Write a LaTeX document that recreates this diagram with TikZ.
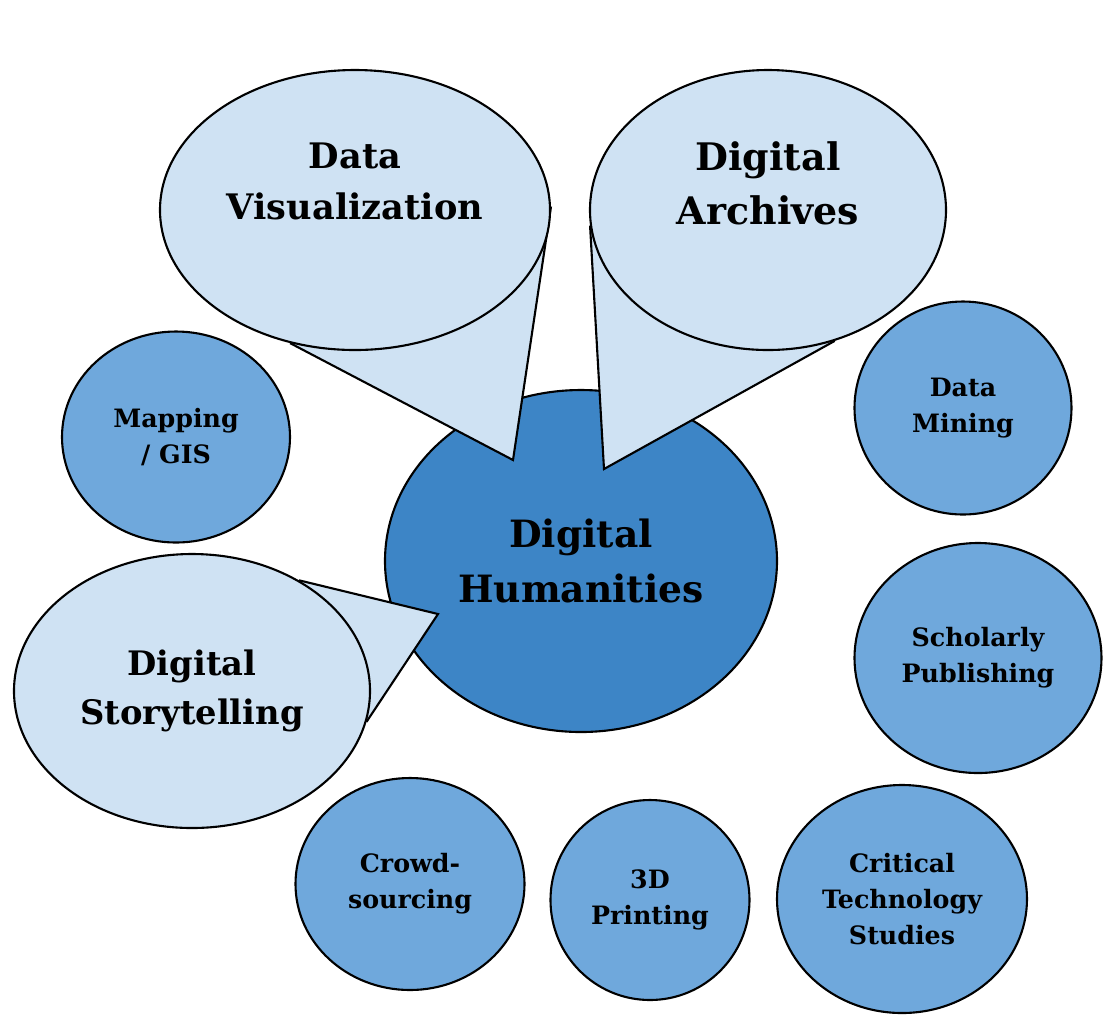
\documentclass[tikz,border=0pt]{standalone}
\usepackage{fontspec}
\setmainfont{DejaVu Serif}
\usetikzlibrary{shapes.geometric, calc}
\pgfdeclarelayer{background}
\pgfdeclarelayer{pointers}
\pgfsetlayers{background,pointers,main}
\definecolor{hubblue}{HTML}{3D85C6}
\definecolor{topicblue}{HTML}{6FA8DC}
\definecolor{calloutblue}{HTML}{CFE2F3}
\tikzset{
    dims/.style 2 args={minimum width=#1cm, minimum height=#2cm},
    blob/.style={ellipse, draw, line width=0.6pt, inner sep=0pt, align=center},
    hub/.style={blob, fill=hubblue, font=\fontsize{10.7}{15.6}\selectfont\bfseries},
    topic/.style={blob, fill=topicblue, font=\fontsize{7.2}{10.3}\selectfont\bfseries},
    callout/.style={blob, fill=calloutblue},
    callout text/.style={align=center, font=\fontsize{10}{14.5}\selectfont\bfseries},
    pointer/.style={line width=0.6pt, line join=miter},
}

\begin{document}
\begin{tikzpicture}
    \useasboundingbox (0,0) rectangle (11.05,-10.15);

    \begin{pgfonlayer}{background}
      \node[hub, dims={3.92}{3.42}] (dh) at (5.81,-5.61) {Digital\\Humanities};
    \end{pgfonlayer}

    % callouts
    \node[callout, dims={3.9}{2.8}] (dv) at (3.55,-2.10) {};
    \node[callout, dims={3.56}{2.8}] (da) at (7.68,-2.10) {};
    \node[callout, dims={3.56}{2.74}] (ds) at (1.92,-6.91) {};

    \node[callout text] (dvtext) at ($(dv.center)+(0,0.29)$) {Data\\Visualization};
    \node[callout text, font=\fontsize{10.8}{15.4}\selectfont\bfseries] (datext) at ($(da.center)+(0,0.27)$) {Digital\\Archives};
    \node[callout text, font=\fontsize{9.6}{14}\selectfont\bfseries] (dstext) at (ds.center) {Digital\\Storytelling};

    \coordinate (dvtip) at (5.13,-4.60);
    \coordinate (datip) at (6.04,-4.69);
    \coordinate (dstip) at (4.38,-6.14);

    \begin{pgfonlayer}{pointers}
      \fill[calloutblue] (dv.244) -- (dvtip) -- (dv.1.5) -- cycle;
      \draw[pointer] (dv.244) -- (dvtip) -- (dv.1.5);
      \fill[calloutblue] (da.185) -- (datip) -- (da.297) -- cycle;
      \draw[pointer] (da.185) -- (datip) -- (da.297);
      \fill[calloutblue] (ds.46.6) -- (dstip) -- (ds.-10.2) -- cycle;
      \draw[pointer] (ds.46.6) -- (dstip) -- (ds.-10.2);
    \end{pgfonlayer}

    % topics round the hub
    \node[topic, dims={2.28}{2.11}] (gis) at (1.76,-4.37) {Mapping\\/ GIS};
    \node[topic, dims={2.17}{2.13}] (mine) at (9.63,-4.08) {Data\\Mining};
    \node[topic, dims={2.47}{2.30}] (pub) at (9.78,-6.58) {Scholarly\\Publishing};
    \node[topic, dims={2.29}{2.12}] (crowd) at (4.10,-8.84) {Crowd-\\sourcing};
    \node[topic, dims={1.99}{2.00}] (print) at (6.50,-9.00) {3D\\Printing};
    \node[topic, dims={2.50}{2.28}] (crit) at (9.02,-8.99) {Critical\\Technology\\Studies};

  \end{tikzpicture}
\end{document}
